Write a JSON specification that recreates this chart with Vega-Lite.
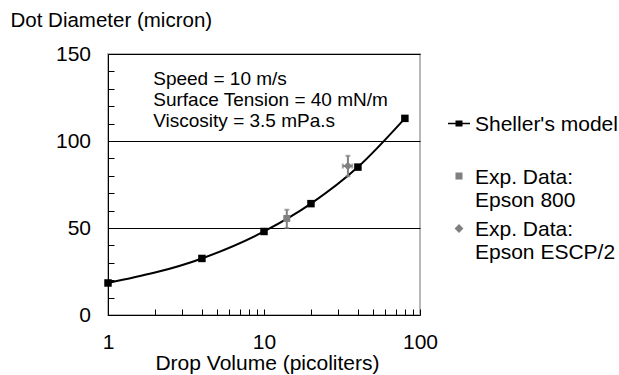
{
  "$schema": "https://vega.github.io/schema/vega-lite/v6.json",
  "width": 312,
  "height": 261,
  "autosize": "none",
  "padding": {"left": 108, "top": 54, "right": 199, "bottom": 60},
  "background": "white",
  "config": {
    "font": "Liberation Sans",
    "view": {"stroke": "#b8b8b8", "strokeWidth": 2},
    "axis": {"labelFont": "Liberation Sans", "titleFont": "Liberation Sans", "labelColor": "black", "titleColor": "black", "titleFontWeight": "normal", "labelFontSize": 21, "titleFontSize": 21, "domainColor": "black", "tickColor": "black"},
    "legend": {"symbolOpacity": 1}
  },
  "datasets": {
    "points": [
      {"series": "model", "vol": 1, "dia": 18.4},
      {"series": "model", "vol": 4, "dia": 32.5},
      {"series": "model", "vol": 10, "dia": 48},
      {"series": "model", "vol": 20, "dia": 64},
      {"series": "model", "vol": 40, "dia": 85},
      {"series": "model", "vol": 80, "dia": 113},
      {"series": "e800", "vol": 14, "dia": 55.5, "lo": 50, "hi": 60.5},
      {"series": "escp", "vol": 34.5, "dia": 85.6, "lo": 79.7, "hi": 91.5, "xlo": 32, "xhi": 36.8}
    ],
    "notes": [
      {"vol": 1.95, "dia": 135.6, "t": "Speed = 10 m/s"},
      {"vol": 1.95, "dia": 123.5, "t": "Surface Tension = 40 mN/m"},
      {"vol": 1.95, "dia": 111.4, "t": "Viscosity = 3.5 mPa.s"}
    ]
  },
  "encoding": {
    "x": {"field": "vol", "type": "quantitative",
      "scale": {"type": "log", "domain": [1, 100], "nice": false},
      "axis": {"title": "Drop Volume (picoliters)", "values": [1,2,3,4,5,6,7,8,9,10,20,30,40,50,60,70,80,90,100],
        "format": "d", "labelExpr": "datum.value == 1 || datum.value == 10 || datum.value == 100 ? datum.label : ''",
        "labelOverlap": false, "labelFlush": false, "grid": false, "tickSize": -6, "labelPadding": 33, "labelBaseline": "middle",
        "titleY": 48, "titleBaseline": "middle", "titleX": 159}},
    "y": {"field": "dia", "type": "quantitative",
      "scale": {"domain": [0, 150], "nice": false},
      "axis": {"title": "Dot Diameter (micron)", "values": [0,10,20,30,40,50,60,70,80,90,100,110,120,130,140,150],
        "labelExpr": "datum.value % 50 == 0 ? datum.label : ''", "labelOverlap": false, "labelFlush": false,
        "grid": true, "gridColor": "black", "gridOpacity": {"condition": {"test": "datum.value % 50 == 0 && datum.value > 0", "value": 1}, "value": 0},
        "tickSize": -6, "labelPadding": 23.5, "labelBaseline": "middle",
        "titleAngle": 0, "titleAlign": "left", "titleBaseline": "middle", "titleX": -98, "titleY": -34, "titleFontSize": 20.5}}
  },
  "layer": [
    {"data": {"name": "points"}, "transform": [{"filter": "datum.series == 'model'"}],
     "mark": {"type": "line", "interpolate": "monotone", "color": "black", "strokeWidth": 2}},
    {"data": {"name": "points"}, "transform": [{"filter": "datum.series != 'model'"}],
     "mark": {"type": "errorbar", "ticks": true, "color": "#808080", "thickness": 2, "size": 5},
     "encoding": {"y": {"field": "lo", "type": "quantitative"}, "y2": {"field": "hi"}}},
    {"data": {"name": "points"}, "transform": [{"filter": "datum.series == 'escp'"}],
     "mark": {"type": "errorbar", "ticks": true, "color": "#808080", "thickness": 2, "size": 5},
     "encoding": {"x": {"field": "xlo", "type": "quantitative"}, "x2": {"field": "xhi"}}},
    {"data": {"name": "points"}, "transform": [{"filter": "datum.series == 'model'"}],
     "mark": {"type": "square", "size": 56, "color": "black", "opacity": 1}},
    {"data": {"name": "points"}, "transform": [{"filter": "datum.series == 'e800'"}],
     "mark": {"type": "square", "size": 49, "color": "#808080", "opacity": 1}},
    {"data": {"name": "points"}, "transform": [{"filter": "datum.series == 'escp'"}],
     "mark": {"type": "point", "shape": "diamond", "filled": true, "size": 70, "color": "#808080", "opacity": 1}},
    {"data": {"name": "notes"},
     "mark": {"type": "text", "align": "left", "baseline": "middle", "fontSize": 19, "color": "black"},
     "encoding": {"text": {"field": "t"}}},
    {"data": {"name": "points"},
     "mark": {"type": "point", "filled": true, "opacity": 0},
     "encoding": {
       "shape": {"field": "series", "type": "nominal",
         "scale": {"domain": ["model", "e800", "escp"], "range": ["M-1,-0.74H1V-0.62H-1Z M-0.32,-0.96H0.32V-0.4H-0.32Z", "M-0.32,-1H0.32V-0.36H-0.32Z", "M0,-1.08L0.4,-0.68L0,-0.28L-0.4,-0.68Z"]},
         "legend": {"title": null, "orient": "none", "legendX": 340, "legendY": 66, "padding": 0,
           "symbolSize": 484, "symbolOpacity": 1, "symbolStrokeWidth": 0, "labelFontSize": 21, "labelColor": "black", "labelFont": "Liberation Sans",
           "labelOffset": 5, "labelLimit": 300, "rowPadding": 8.5, "labelBaseline": "alphabetic",
           "labelExpr": "datum.value == 'model' ? [\"Sheller's model\", ''] : datum.value == 'e800' ? ['Exp. Data:', 'Epson 800'] : ['Exp. Data:', 'Epson ESCP/2']"}},
       "color": {"field": "series", "type": "nominal",
         "scale": {"domain": ["model", "e800", "escp"], "range": ["black", "#808080", "#808080"]}}
     }}
  ]
}
